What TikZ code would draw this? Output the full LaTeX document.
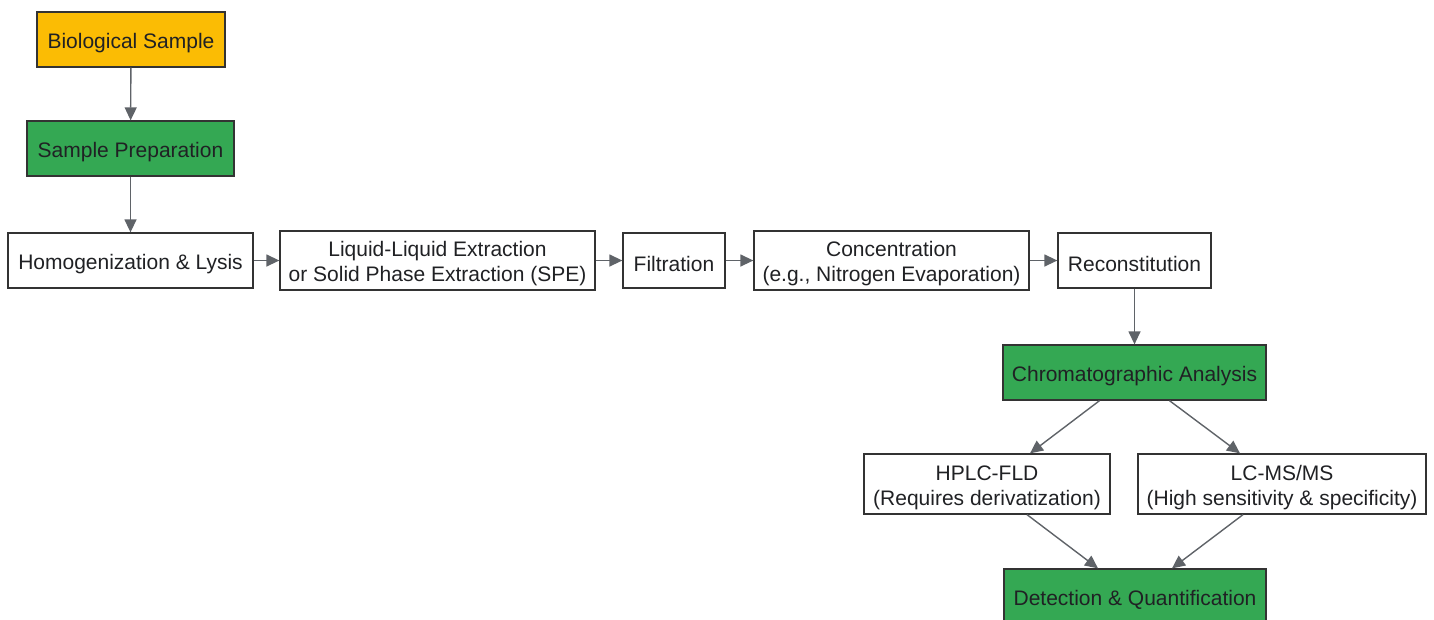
\documentclass[tikz,border=0pt]{standalone}
\usepackage{fontspec}
\setmainfont{Liberation Sans}
\usetikzlibrary{arrows.meta,calc}
\definecolor{ylw}{HTML}{FBBC04}
\definecolor{grn}{HTML}{34A853}
\definecolor{edge}{HTML}{5F6368}
\definecolor{txt}{HTML}{202124}
\definecolor{bord}{HTML}{333333}
\begin{document}
\begin{tikzpicture}[x=1pt,y=-1pt,
  box/.style={draw=bord,line width=1.3pt,rectangle,inner sep=0pt,fill=white},
  lbl/.style={text=txt,font=\fontsize{21}{25}\selectfont,align=center,inner sep=0pt,yshift=-3.5pt},
  yellowbox/.style={box,fill=ylw},
  greenbox/.style={box,fill=grn},
  arr/.style={draw=edge,line width=1.4pt,-{Triangle[length=13pt,width=12pt]}}]
\useasboundingbox (0,0) rectangle (1434,619);
\node[yellowbox,minimum width=188pt,minimum height=55pt,label={[lbl]center:Biological Sample}] (bio) at (131,39.5) {};
\node[greenbox,minimum width=207pt,minimum height=55pt,label={[lbl]center:Sample Preparation}] (prep) at (130.5,148.5) {};
\node[box,minimum width=245pt,minimum height=55pt,label={[lbl]center:Homogenization \& Lysis}] (hom) at (130.5,260.5) {};
\node[box,minimum width=315pt,minimum height=59pt,label={[lbl]center:{Liquid-Liquid Extraction\\or Solid Phase Extraction (SPE)}}] (lle) at (437.5,260.5) {};
\node[box,minimum width=102pt,minimum height=55pt,label={[lbl]center:Filtration}] (fil) at (674,260.5) {};
\node[box,minimum width=275pt,minimum height=59pt,label={[lbl]center:{Concentration\\(e.g., Nitrogen Evaporation)}}] (con) at (891.5,260.5) {};
\node[box,minimum width=153pt,minimum height=55pt,label={[lbl]center:Reconstitution}] (rec) at (1134.5,260.5) {};
\node[greenbox,minimum width=263pt,minimum height=55pt,label={[lbl]center:Chromatographic Analysis}] (chr) at (1134.5,372.5) {};
\node[box,minimum width=246pt,minimum height=60pt,label={[lbl]center:{HPLC-FLD\\(Requires derivatization)}}] (hplc) at (987,484) {};
\node[box,minimum width=288pt,minimum height=60pt,label={[lbl]center:{LC-MS/MS\\(High sensitivity \& specificity)}}] (lcms) at (1282,484) {};
\node[greenbox,minimum width=262pt,minimum height=55pt,label={[lbl]center:Detection \& Quantification}] (det) at (1135,596.5) {};
\draw[arr] (bio) -- (prep);
\draw[arr] (prep) -- (prep |- hom.north);
\draw[arr] (hom) -- (lle);
\draw[arr] (lle) -- (fil);
\draw[arr] (fil) -- (con);
\draw[arr] (con) -- (con -| rec.west);
\draw[arr] (rec) -- (chr);
\draw[arr] ($(chr.south)+(-35,0)$) -- ($(hplc.north)+(43,0)$);
\draw[arr] ($(chr.south)+(35,0)$) -- ($(lcms.north)+(-42,0)$);
\draw[arr] ($(hplc.south)+(40,0)$) -- ($(det.north)+(-37,0)$);
\draw[arr] ($(lcms.south)+(-39,0)$) -- ($(det.north)+(37,0)$);
\end{tikzpicture}
\end{document}
